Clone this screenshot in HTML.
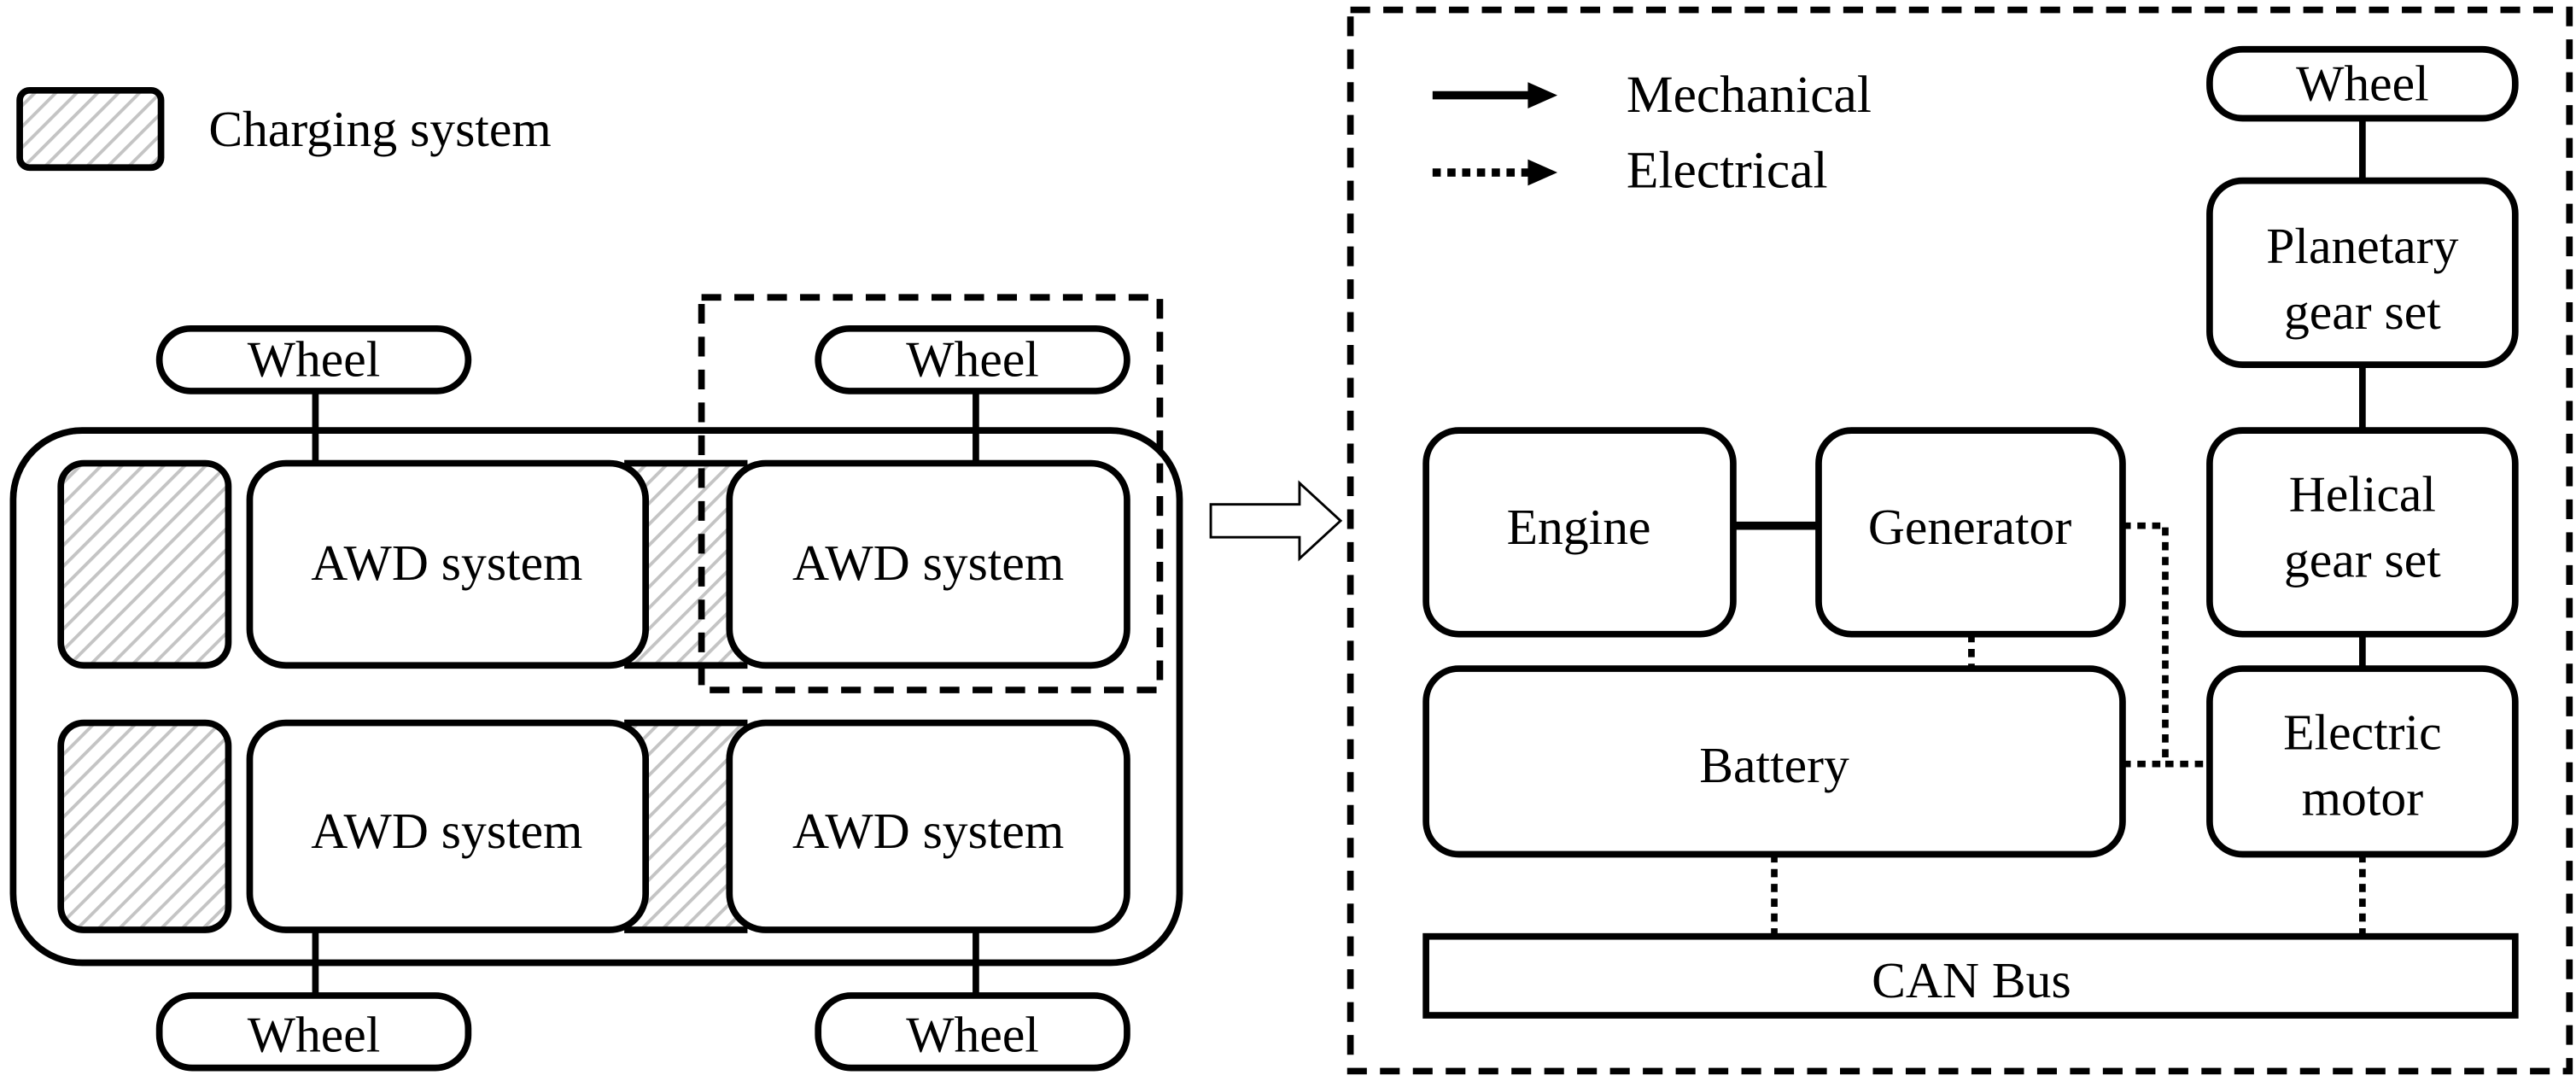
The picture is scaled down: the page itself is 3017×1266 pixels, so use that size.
<!DOCTYPE html>
<html><head><meta charset="utf-8"><style>
html,body{margin:0;padding:0;background:#fff;}
svg{display:block;}
text{font-family:"Liberation Serif",serif;font-size:31px;fill:#000;text-anchor:middle;}
</style></head><body>
<svg width="3017" height="1266" viewBox="0 0 1568 658" preserveAspectRatio="none">
<defs>
<pattern id="h" patternUnits="userSpaceOnUse" width="9" height="9" patternTransform="rotate(45)">
<rect width="9" height="9" fill="#fff"/><line x1="0" y1="0" x2="0" y2="9" stroke="#c4c4c4" stroke-width="4"/>
</pattern>
</defs>
<g stroke="#000" stroke-width="4" fill="#fff">
<rect x="12" y="55" width="86" height="47" rx="6" fill="url(#h)"/>
<line x1="192" y1="236" x2="192" y2="284"/><line x1="594" y1="236" x2="594" y2="284"/>
<line x1="192" y1="564" x2="192" y2="606"/><line x1="594" y1="564" x2="594" y2="606"/>
<rect x="97" y="200" width="188" height="38" rx="19"/>
<rect x="498" y="200" width="188" height="38" rx="19"/>
<rect x="97" y="606" width="188" height="44" rx="20"/>
<rect x="498" y="606" width="188" height="44" rx="20"/>
<rect x="8" y="262" width="710" height="324" rx="42" fill="none"/>
<rect x="380" y="282" width="75" height="123" fill="url(#h)" stroke="none"/>
<rect x="380" y="440" width="75" height="126" fill="url(#h)" stroke="none"/>
<line x1="380" y1="282" x2="455" y2="282"/><line x1="380" y1="405" x2="455" y2="405"/>
<line x1="380" y1="440" x2="455" y2="440"/><line x1="380" y1="566" x2="455" y2="566"/>
<rect x="37" y="282" width="102" height="123" rx="14" fill="url(#h)"/>
<rect x="37" y="440" width="102" height="126" rx="14" fill="url(#h)"/>
<rect x="152" y="282" width="241" height="123" rx="22"/>
<rect x="444" y="282" width="242" height="123" rx="22"/>
<rect x="152" y="440" width="241" height="126" rx="22"/>
<rect x="444" y="440" width="242" height="126" rx="22"/>
<rect x="427" y="181" width="279" height="239" fill="none" stroke-dasharray="12,8"/>
<polygon points="737,307 791,307 791,294 816,317 791,340 791,327 737,327" stroke-width="1.5"/>
<rect x="822" y="6" width="742" height="646" fill="none" stroke-dasharray="12,8"/>
<line x1="872" y1="58" x2="932" y2="58" stroke-width="5"/>
<polygon points="930,50 948,58 930,66" fill="#000" stroke="none"/>
<line x1="872" y1="105" x2="932" y2="105" stroke-width="5" stroke-dasharray="5,4"/>
<polygon points="930,97 948,105 930,113" fill="#000" stroke="none"/>
<line x1="1438" y1="72" x2="1438" y2="110"/><line x1="1438" y1="222" x2="1438" y2="262"/><line x1="1438" y1="386" x2="1438" y2="407"/>
<line x1="1055" y1="320" x2="1107" y2="320" stroke-width="5"/>
<polyline points="1292,320 1318,320 1318,465 1345,465" fill="none" stroke-dasharray="5,4"/>
<line x1="1292" y1="465" x2="1318" y2="465" stroke-dasharray="5,4"/>
<line x1="1200" y1="386" x2="1200" y2="407" stroke-dasharray="5,4"/>
<line x1="1080" y1="520" x2="1080" y2="570" stroke-dasharray="5,4"/>
<line x1="1438" y1="520" x2="1438" y2="570" stroke-dasharray="5,4"/>
<rect x="1345" y="30" width="186" height="42" rx="20"/>
<rect x="1345" y="110" width="186" height="112" rx="20"/>
<rect x="1345" y="262" width="186" height="124" rx="20"/>
<rect x="1345" y="407" width="186" height="113" rx="20"/>
<rect x="868" y="262" width="187" height="124" rx="20"/>
<rect x="1107" y="262" width="185" height="124" rx="20"/>
<rect x="868" y="407" width="424" height="113" rx="20"/>
<rect x="868" y="570" width="663" height="48"/>
</g>
<text x="127" y="89" style="text-anchor:start">Charging system</text>
<text x="191" y="229">Wheel</text><text x="592" y="229">Wheel</text>
<text x="191" y="640">Wheel</text><text x="592" y="640">Wheel</text>
<text x="272" y="353">AWD system</text><text x="565" y="353">AWD system</text>
<text x="272" y="516">AWD system</text><text x="565" y="516">AWD system</text>
<text x="990" y="68" style="text-anchor:start;font-size:32px">Mechanical</text>
<text x="990" y="114" style="text-anchor:start;font-size:32px">Electrical</text>
<text x="1438" y="61">Wheel</text>
<text x="1438" y="160">Planetary</text><text x="1438" y="200">gear set</text>
<text x="1438" y="311">Helical</text><text x="1438" y="351">gear set</text>
<text x="1438" y="456">Electric</text><text x="1438" y="496">motor</text>
<text x="961" y="331">Engine</text><text x="1199" y="331">Generator</text>
<text x="1080" y="476">Battery</text>
<text x="1200" y="607">CAN Bus</text>
</svg>
</body></html>
